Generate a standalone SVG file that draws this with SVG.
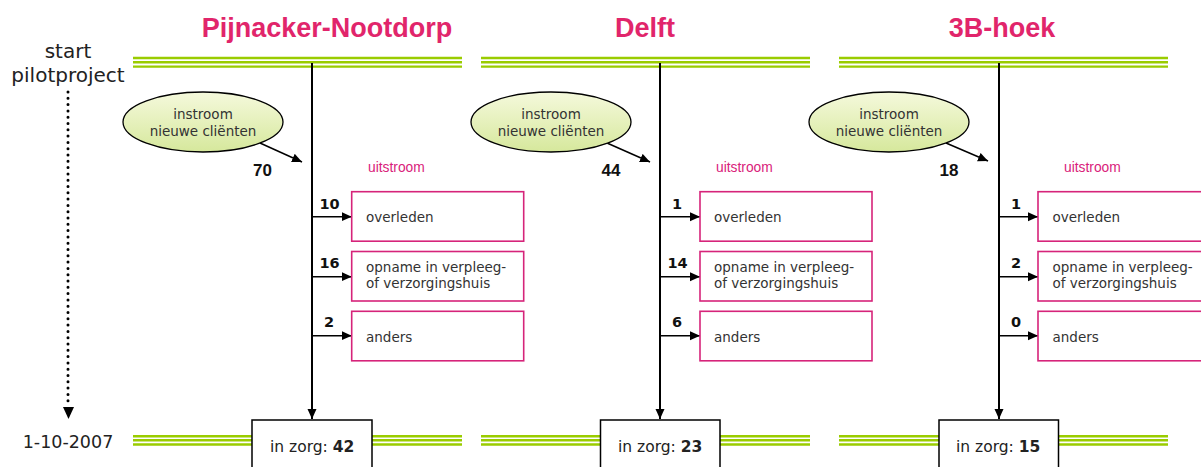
<svg xmlns="http://www.w3.org/2000/svg" width="1201" height="467" viewBox="0 0 1201 467">
<defs>
<linearGradient id="ellg" x1="0" y1="0" x2="0" y2="1">
<stop offset="0" stop-color="#f5f9dc"/>
<stop offset="1" stop-color="#d6e89c"/>
</linearGradient>
<marker id="ah" markerUnits="userSpaceOnUse" markerWidth="11" markerHeight="10" refX="10" refY="5" orient="auto">
<path d="M0,0.5 L10,5 L0,9.5 z" fill="#000"/>
</marker>
<style>
.title{font-family:"Liberation Sans",Arial,sans-serif;font-weight:bold;font-size:27px;fill:#e1256b;text-anchor:middle}
.g{stroke:#9acc00;stroke-width:2.4;fill:none}
.ell{fill:url(#ellg);stroke:#000;stroke-width:1.3}
.et{font-family:"DejaVu Sans",sans-serif;font-size:13.5px;fill:#333;text-anchor:middle}
.bt{font-family:"DejaVu Sans",sans-serif;font-size:13.5px;fill:#333}
.num{font-family:"Liberation Sans",Arial,sans-serif;font-weight:bold;font-size:17px;fill:#111;text-anchor:middle}
.bn{font-family:"DejaVu Sans",sans-serif;font-weight:bold;font-size:14.5px;fill:#111;text-anchor:middle}
.uit{font-family:"Liberation Sans",Arial,sans-serif;font-size:13.8px;fill:#d9217a}
.pb{fill:#fff;stroke:#d6247a;stroke-width:1.6}
.zb{fill:#fff;stroke:#000;stroke-width:1.5}
.zt{font-family:"DejaVu Sans",sans-serif;font-size:15.5px;fill:#222}
.main{stroke:#000;stroke-width:2;fill:none}
.br{stroke:#000;stroke-width:1.5;fill:none}
.side{font-family:"DejaVu Sans",sans-serif;font-size:20px;fill:#222;text-anchor:middle}
</style>
</defs>

<!-- green time lines -->
<g id="timelines">
<path class="g" d="M133,58H462M133,62.3H462M133,66.6H462M481,58H810M481,62.3H810M481,66.6H810M839,58H1168M839,62.3H1168M839,66.6H1168"/>
<path class="g" d="M133,436.2H462M133,440.3H462M133,444.5H462M481,436.2H810M481,440.3H810M481,444.5H810M839,436.2H1168M839,440.3H1168M839,444.5H1168"/>
</g>

<!-- left timeline labels -->
<g id="start">
<text class="side" x="68" y="58">start</text>
<text class="side" x="68" y="82">pilotproject</text>
</g>
<g id="end">
<text class="side" x="68" y="448" style="font-size:17.5px">1-10-2007</text>
</g>

<!-- titles -->
<g id="title1"><text class="title" x="327" y="37">Pijnacker-Nootdorp</text></g>
<g id="title2"><text class="title" x="645" y="37">Delft</text></g>
<g id="title3"><text class="title" x="1002" y="37">3B-hoek</text></g>

<!-- connectors -->
<g id="connectors">
<line x1="68" y1="92" x2="68" y2="402" stroke="#000" stroke-width="3" stroke-linecap="round" stroke-dasharray="0 6.3"/>
<path d="M63,407 L74,407 L68.5,419 z" fill="#000"/>

<line class="main" x1="312" y1="63" x2="312" y2="419" marker-end="url(#ah)"/>
<line class="br" x1="312" y1="216.7" x2="351.7" y2="216.7" marker-end="url(#ah)"/>
<line class="br" x1="312" y1="276.7" x2="351.7" y2="276.7" marker-end="url(#ah)"/>
<line class="br" x1="312" y1="335.7" x2="351.7" y2="335.7" marker-end="url(#ah)"/>
<line class="br" x1="260" y1="143" x2="302" y2="162" marker-end="url(#ah)"/>

<line class="main" x1="660" y1="63" x2="660" y2="419" marker-end="url(#ah)"/>
<line class="br" x1="660" y1="216.7" x2="700" y2="216.7" marker-end="url(#ah)"/>
<line class="br" x1="660" y1="276.7" x2="700" y2="276.7" marker-end="url(#ah)"/>
<line class="br" x1="660" y1="335.7" x2="700" y2="335.7" marker-end="url(#ah)"/>
<line class="br" x1="607" y1="143" x2="650" y2="162" marker-end="url(#ah)"/>

<line class="main" x1="999" y1="63" x2="999" y2="419" marker-end="url(#ah)"/>
<line class="br" x1="999" y1="216.7" x2="1038" y2="216.7" marker-end="url(#ah)"/>
<line class="br" x1="999" y1="276.7" x2="1038" y2="276.7" marker-end="url(#ah)"/>
<line class="br" x1="999" y1="335.7" x2="1038" y2="335.7" marker-end="url(#ah)"/>
<line class="br" x1="946" y1="143" x2="988" y2="161" marker-end="url(#ah)"/>
</g>

<!-- connector labels -->
<g id="labels">
<text class="num" x="262.5" y="176">70</text>
<text class="uit" x="368" y="172">uitstroom</text>
<text class="bn" x="329.5" y="209">10</text>
<text class="bn" x="329.5" y="268">16</text>
<text class="bn" x="329" y="327">2</text>

<text class="num" x="611" y="176">44</text>
<text class="uit" x="716" y="172">uitstroom</text>
<text class="bn" x="677" y="209">1</text>
<text class="bn" x="677.5" y="268">14</text>
<text class="bn" x="677" y="327">6</text>

<text class="num" x="949" y="176">18</text>
<text class="uit" x="1064" y="172">uitstroom</text>
<text class="bn" x="1016" y="209">1</text>
<text class="bn" x="1016" y="268">2</text>
<text class="bn" x="1016" y="327">0</text>
</g>

<!-- panel 1 -->
<g id="instroom1">
<ellipse class="ell" cx="203" cy="122" rx="80" ry="30"/>
<text class="et" x="203" y="119">instroom</text>
<text class="et" x="203" y="136">nieuwe cliënten</text>
</g>
<g id="overleden1"><rect class="pb" x="351.7" y="191.7" width="172" height="49.5"/><text class="bt" x="366" y="221.7">overleden</text></g>
<g id="opname1"><rect class="pb" x="351.7" y="251.5" width="172" height="49.5"/><text class="bt" x="366" y="272.3">opname in verpleeg-</text><text class="bt" x="366" y="288.3">of verzorgingshuis</text></g>
<g id="anders1"><rect class="pb" x="351.7" y="311.3" width="172" height="49.5"/><text class="bt" x="366" y="341.5">anders</text></g>
<g id="inzorg1"><rect class="zb" x="252" y="420" width="120" height="60"/><text class="zt" x="270" y="452">in zorg: <tspan font-weight="bold">42</tspan></text></g>

<!-- panel 2 -->
<g id="instroom2">
<ellipse class="ell" cx="551" cy="122" rx="80" ry="30"/>
<text class="et" x="551" y="119">instroom</text>
<text class="et" x="551" y="136">nieuwe cliënten</text>
</g>
<g id="overleden2"><rect class="pb" x="700" y="191.7" width="172" height="49.5"/><text class="bt" x="714" y="221.7">overleden</text></g>
<g id="opname2"><rect class="pb" x="700" y="251.5" width="172" height="49.5"/><text class="bt" x="714" y="272.3">opname in verpleeg-</text><text class="bt" x="714" y="288.3">of verzorgingshuis</text></g>
<g id="anders2"><rect class="pb" x="700" y="311.3" width="172" height="49.5"/><text class="bt" x="714" y="341.5">anders</text></g>
<g id="inzorg2"><rect class="zb" x="600.5" y="420" width="119.5" height="60"/><text class="zt" x="618" y="452">in zorg: <tspan font-weight="bold">23</tspan></text></g>

<!-- panel 3 -->
<g id="instroom3">
<ellipse class="ell" cx="889" cy="122" rx="80" ry="30"/>
<text class="et" x="889" y="119">instroom</text>
<text class="et" x="889" y="136">nieuwe cliënten</text>
</g>
<g id="overleden3"><rect class="pb" x="1038" y="191.7" width="172" height="49.5"/><text class="bt" x="1052.5" y="221.7">overleden</text></g>
<g id="opname3"><rect class="pb" x="1038" y="251.5" width="172" height="49.5"/><text class="bt" x="1052.5" y="272.3">opname in verpleeg-</text><text class="bt" x="1052.5" y="288.3">of verzorgingshuis</text></g>
<g id="anders3"><rect class="pb" x="1038" y="311.3" width="172" height="49.5"/><text class="bt" x="1052.5" y="341.5">anders</text></g>
<g id="inzorg3"><rect class="zb" x="939" y="420" width="119.5" height="60"/><text class="zt" x="956" y="452">in zorg: <tspan font-weight="bold">15</tspan></text></g>
</svg>
